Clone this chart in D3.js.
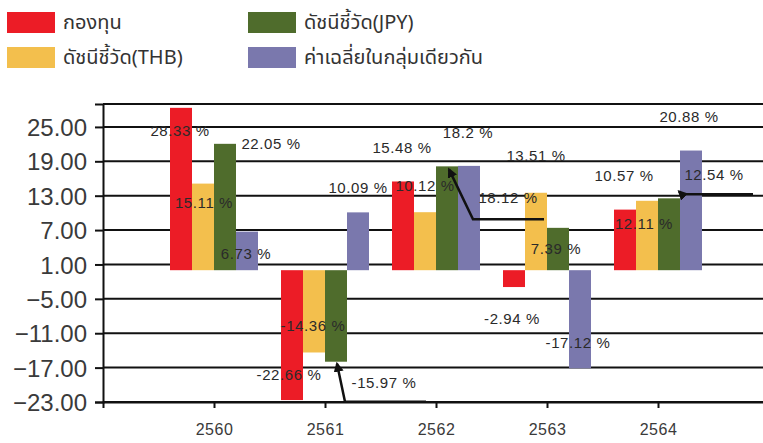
<!DOCTYPE html>
<html>
<head>
<meta charset="utf-8">
<script src="https://cdn.jsdelivr.net/npm/d3@7"></script>
<style>
  body { margin: 0; background: #fff; }
  svg { display: block; }
  .tick text { fill: #3a3a3a; }
</style>
</head>
<body>
<div id="chart"></div>
<script>
// values
const years = [2560, 2561, 2562, 2563, 2564];
const seriesNames = ['กองทุน', 'ดัชนีชี้วัด(THB)', 'ดัชนีชี้วัด(JPY)', 'ค่าเฉลี่ยในกลุ่มเดียวกัน'];
const fund = [28.33, -22.66, 15.48, -2.94, 10.57];
const benchTHB = [15.11, -14.36, 10.12, 13.51, 12.11];
const benchJPY = [22.05, -15.97, 18.12, 7.39, 12.54];
const peerAvg = [6.73, 10.09, 18.2, -17.12, 20.88];
const yTicks = [-23, -17, -11, -5, 1, 7, 13, 19, 25];
const colors = ['#ec1c26', '#f3bf4d', '#4f6c2c', '#7a78ad'];

const width = 763;
const height = 443;
const plot = { left: 103, right: 769, top: 104, bottom: 402 };
const barW = 22;

// where excel dropped each data label, offset from the end of its bar (px)
const labelNudge = [
  [[-1, 23], [1, 19], [46, 0], [-1, 22]],
  [[-3, -26], [-1, -27], [48, 21], [0, -25]],
  [[-1, -34], [0, -27], [61, 31], [-1, -33]],
  [[-2, 31], [0, -37], [-2, 21], [-2, -26]],
  [[-1, -34], [-3, 23], [45, -24], [-2, -34]]
];
// leader lines (year index, series index, points relative to bar end)
const leaders = [
  { yi: 1, si: 2, pts: [[90, 40], [9, 40], [1, 2]] },
  { yi: 2, si: 2, pts: [[97, 53], [26, 53], [2, 3]] },
  { yi: 4, si: 2, pts: [[84, -4], [13, -4], [10, -7]] }
];

const series = [fund, benchTHB, benchJPY, peerAvg];

const svg = d3.select('#chart').append('svg')
  .attr('width', width)
  .attr('height', height);

svg.append('defs').append('marker')
  .attr('id', 'arrow')
  .attr('viewBox', '0 0 10 10')
  .attr('refX', 8).attr('refY', 5)
  .attr('markerWidth', 4).attr('markerHeight', 4)
  .attr('orient', 'auto')
  .append('path')
  .attr('d', 'M0,0 L10,5 L0,10 z')
  .attr('fill', '#111');

const x = d3.scaleLinear()
  .domain([2559, 2565])
  .range([plot.left, plot.right]);

const y = d3.scaleLinear()
  .domain([-23, 29])
  .range([plot.bottom, plot.top]);

// gridlines
svg.append('g')
  .selectAll('line')
  .data(yTicks.concat([29]))
  .join('line')
  .attr('x1', plot.left).attr('x2', plot.right)
  .attr('y1', d => y(d)).attr('y2', d => y(d))
  .attr('stroke', '#111')
  .attr('stroke-width', 2);

// bars
const bars = [];
years.forEach((yr, yi) => {
  series.forEach((vals, si) => {
    bars.push({ yr, yi, si, v: vals[yi] });
  });
});

const barX = d => x(d.yr) + (d.si - 2) * barW;
const barEnd = d => y(d.v);

svg.append('g')
  .selectAll('rect')
  .data(bars)
  .join('rect')
  .attr('x', barX)
  .attr('width', barW)
  .attr('y', d => Math.min(y(0), y(d.v)))
  .attr('height', d => Math.abs(y(0) - y(d.v)))
  .attr('fill', d => colors[d.si]);

// axes
const yAxis = svg.append('g')
  .attr('transform', `translate(${plot.left},0)`)
  .call(d3.axisLeft(y).tickValues(yTicks).tickFormat(d3.format('.2f')).tickSize(8).tickPadding(8));
yAxis.select('.domain').attr('stroke', '#111').attr('stroke-width', 2);
yAxis.selectAll('.tick line').attr('stroke', '#111').attr('stroke-width', 2);
yAxis.selectAll('.tick text')
  .style('font-family', '"Liberation Sans", Arial, sans-serif')
  .style('font-size', '24px')
  .attr('dy', '0.36em');

const xAxis = svg.append('g')
  .attr('transform', `translate(0,${plot.bottom})`)
  .call(d3.axisBottom(x).tickValues(years).tickFormat(d3.format('d')).tickSize(6).tickPadding(16));
xAxis.select('.domain').attr('stroke', '#111').attr('stroke-width', 2);
xAxis.selectAll('.tick line').attr('stroke', '#111').attr('stroke-width', 2);
xAxis.selectAll('.tick text')
  .style('font-family', '"Liberation Sans", Arial, sans-serif')
  .style('font-size', '16px')
  .style('letter-spacing', '0.5px');

// leader lines
svg.append('g')
  .selectAll('path')
  .data(leaders)
  .join('path')
  .attr('d', d => {
    const b = bars.find(o => o.yi === d.yi && o.si === d.si);
    const bx = barX(b) + barW / 2, by = barEnd(b);
    return d3.line()(d.pts.map(p => [bx + p[0], by + p[1]]));
  })
  .attr('fill', 'none')
  .attr('stroke', '#111')
  .attr('stroke-width', 2.5)
  .attr('marker-end', 'url(#arrow)');

// data labels
svg.append('g')
  .selectAll('text')
  .data(bars)
  .join('text')
  .attr('x', d => barX(d) + barW / 2 + labelNudge[d.yi][d.si][0])
  .attr('y', d => barEnd(d) + labelNudge[d.yi][d.si][1])
  .attr('text-anchor', 'middle')
  .attr('dominant-baseline', 'central')
  .style('font-family', '"Liberation Sans", Arial, sans-serif')
  .style('font-size', '15px')
  .style('letter-spacing', '0.6px')
  .attr('fill', '#2a2a2a')
  .text(d => `${d.v} %`);

// legend: two columns, fund + THB on the left, JPY + peers on the right
const legend = svg.append('g')
  .selectAll('g')
  .data(seriesNames)
  .join('g')
  .attr('transform', (d, i) => `translate(${7 + Math.floor(i / 2) * 241},${12 + (i % 2) * 35})`);

legend.append('rect')
  .attr('width', 48)
  .attr('height', 21)
  .attr('fill', (d, i) => colors[i]);

legend.append('text')
  .attr('x', 56)
  .attr('y', 11)
  .attr('dominant-baseline', 'central')
  .style('font-family', '"Noto Sans Thai", "Noto Sans", "DejaVu Sans", sans-serif')
  .style('font-size', '20px')
  .attr('fill', '#333')
  .text(d => d);
</script>
</body>
</html>
